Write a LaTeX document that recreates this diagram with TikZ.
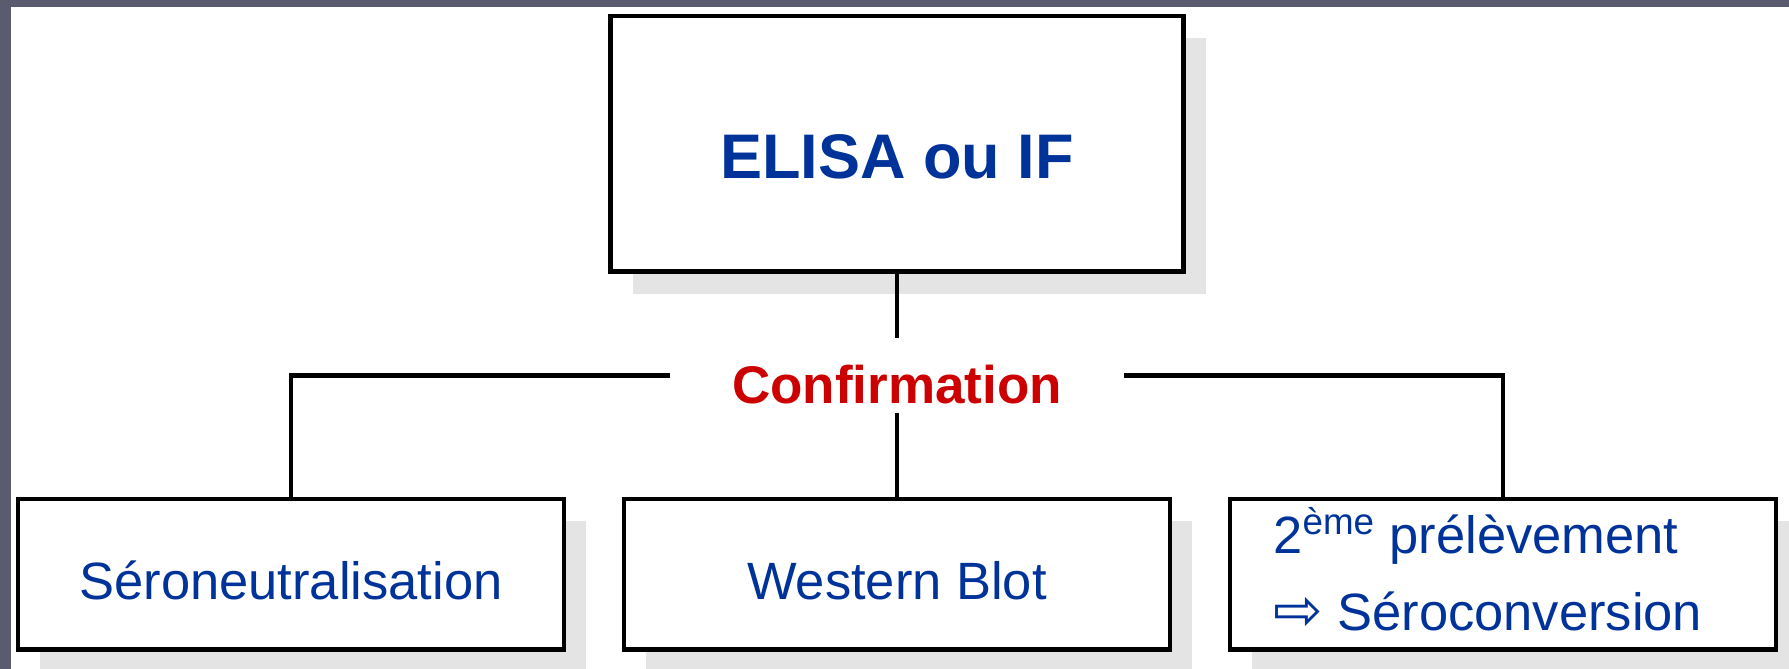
\documentclass[tikz,border=0pt]{standalone}
\usepackage{fontspec}
\setmainfont{Liberation Sans}
\newfontfamily\arrowfont{DejaVu Sans}
\usetikzlibrary{shadows}

\definecolor{frameband}{RGB}{90,91,110}
\definecolor{textblue}{RGB}{0,51,153}
\definecolor{textred}{RGB}{204,0,0}
\definecolor{shadowgray}{RGB}{228,228,228}

\tikzset{
  box/.style={draw=black, line width=2.25pt, fill=white, inner sep=0pt,
    minimum width=273pt, minimum height=75.25pt,
    drop shadow={shadow xshift=11pt, shadow yshift=-11pt, fill=shadowgray, opacity=1},
    text=textblue, font=\fontsize{26.25}{31}\selectfont,
    text height=24.75pt, text depth=0pt},
  boxtext/.style={anchor=base west, inner sep=0pt, text=textblue,
    font=\fontsize{26.25}{31}\selectfont},
  link/.style={draw=black, line width=2.25pt}
}

\begin{document}
\begin{tikzpicture}[x=0.5pt, y=-0.5pt]
\fill[white] (0,0) rectangle (1789,669);
\useasboundingbox (0,0) rectangle (1789,669);

% frame of the slide
\fill[frameband] (0,0) rectangle (1789,7);
\fill[frameband] (0,0) rectangle (11,669);

% first test
\node[box, minimum width=286.5pt, minimum height=127.75pt,
  font=\bfseries\fontsize{31.5}{38}\selectfont, text height=34.25pt] (elisa) at (897,143.75) {ELISA ou IF};

\node[anchor=base, inner xsep=31pt, inner ysep=5pt, text=textred,
  font=\bfseries\fontsize{26.5}{32}\selectfont,
  text height=27.5pt, text depth=0pt] (conf) at (897,403) {Confirmation};

% confirmation tests
\node[box] (sero) at (291,574.25) {Séroneutralisation};
\node[box] (western) at (897,574.25) {Western Blot};
\node[box] (second) at (1503,574.25) {};
\node[boxtext] (secondtxt) at (1273,553) {2\textsuperscript{ème} prélèvement};
\node[boxtext] (convtxt) at (1273,630) {{\arrowfont\fontsize{29.5}{31}\selectfont ⇨} Séroconversion};

\draw[link] (elisa.south) -- (conf.north);
\draw[link] (conf.south) -- (western.north);
\draw[link] (conf.west) -| (sero.north);
\draw[link] (conf.east) -| (second.north);

\end{tikzpicture}
\end{document}
